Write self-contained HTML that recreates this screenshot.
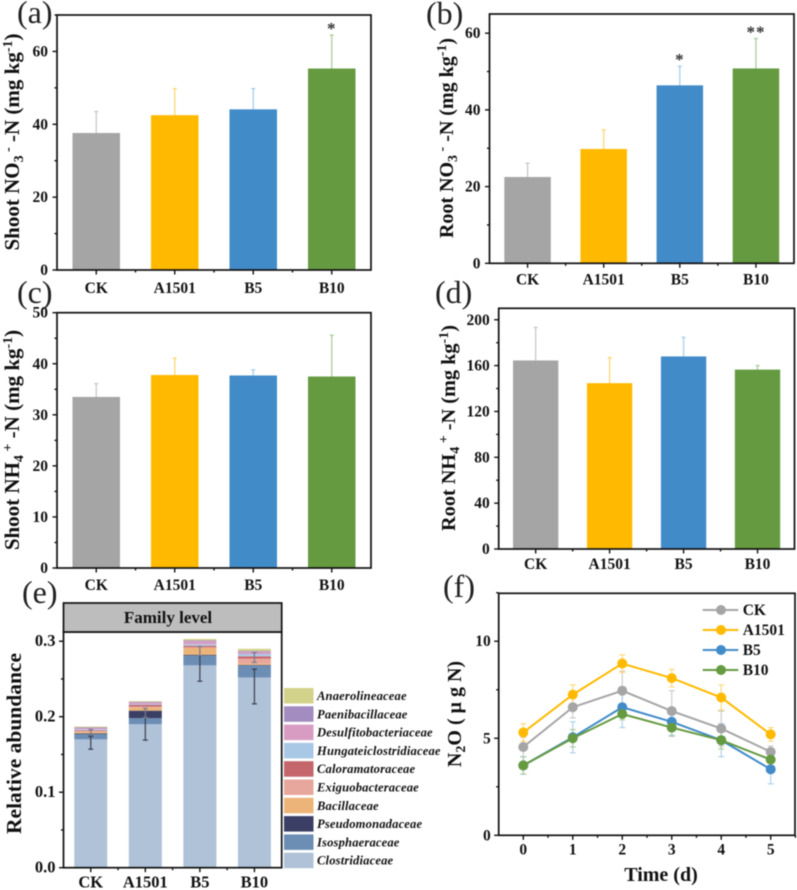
<!DOCTYPE html>
<html lang="en">
<head>
<meta charset="utf-8">
<title>Nitrogen content and N2O figure</title>
<style>
html,body{margin:0;padding:0;background:#fff;}
#figure{display:block;width:797px;height:890px;filter:blur(0.5px);font-family:"Liberation Serif",serif;}
text{font-family:"Liberation Serif",serif;fill:#111;}
.tick{font-weight:bold;font-size:15.5px;}
.ytitle{font-weight:bold;font-size:20px;text-anchor:middle;}
.plabel{font-size:32px;fill:#222;}
</style>
</head>
<body>
<svg id="figure" xmlns="http://www.w3.org/2000/svg" width="797" height="890" viewBox="0 0 797 890">
  <rect x="0" y="0" width="797" height="890" fill="#fff"/>

  <text class="plabel" x="17" y="23">(a)</text>
  <text class="plabel" x="426" y="24">(b)</text>
  <text class="plabel" x="17" y="303">(c)</text>
  <text class="plabel" x="435" y="303">(d)</text>
  <text class="plabel" x="22" y="603">(e)</text>
  <text class="plabel" x="443" y="597">(f)</text>

  <text class="ytitle" style="font-size:21px" transform="translate(19,142) rotate(-90)">Shoot NO<tspan dy="4" font-size="14">3</tspan><tspan dy="-11" font-size="14"> -</tspan><tspan dy="7"> -N (mg kg</tspan><tspan dy="-7" font-size="14">-1</tspan><tspan dy="7">)</tspan></text>
  <text class="ytitle" transform="translate(453,138) rotate(-90)">Root NO<tspan dy="4" font-size="14">3</tspan><tspan dy="-11" font-size="14"> -</tspan><tspan dy="7"> -N (mg kg</tspan><tspan dy="-7" font-size="14">-1</tspan><tspan dy="7">)</tspan></text>
  <text class="ytitle" style="font-size:21px" transform="translate(19,440) rotate(-90)">Shoot NH<tspan dy="4" font-size="14">4</tspan><tspan dy="-11" font-size="14"> +</tspan><tspan dy="7"> -N (mg kg</tspan><tspan dy="-7" font-size="14">-1</tspan><tspan dy="7">)</tspan></text>
  <text class="ytitle" style="font-size:20.3px" transform="translate(455,428) rotate(-90)">Root NH<tspan dy="4" font-size="14">4</tspan><tspan dy="-11" font-size="14"> +</tspan><tspan dy="7"> -N (mg kg</tspan><tspan dy="-7" font-size="14">-1</tspan><tspan dy="7">)</tspan></text>
  <text class="ytitle" style="font-size:21.5px" transform="translate(21,743.5) rotate(-90)">Relative abundance</text>
  <text class="ytitle" transform="translate(461,714) rotate(-90)">N<tspan dy="4" font-size="14">2</tspan><tspan dy="-4">O ( μ g N)</tspan></text>
  <text x="661" y="881" text-anchor="middle" font-weight="bold" font-size="20">Time (d)</text>

  <g id="plots"></g>
</svg>

<script>
// ---------- shared categories ----------
const categories = ['CK', 'A1501', 'B5', 'B10'];

// ---------- panel (a) ----------
const shootNo3Values = [37.6, 42.5, 44.1, 55.3];
const shootNo3Upper = [43.5, 49.8, 49.8, 64.5];
const shootNo3Marks = ['', '', '', '*'];
const shootNo3Ticks = [0, 20, 40, 60];
const shootNo3Minor = [10, 30, 50, 70];

// ---------- panel (b) ----------
const rootNo3Values = [22.5, 29.8, 46.4, 50.8];
const rootNo3Upper = [26.1, 34.8, 51.4, 58.6];
const rootNo3Marks = ['', '', '*', '**'];
const rootNo3Ticks = [0, 20, 40, 60];
const rootNo3Minor = [10, 30, 50];

// ---------- panel (c) ----------
const shootNh4Values = [33.5, 37.8, 37.7, 37.5];
const shootNh4Upper = [36.1, 41.1, 38.8, 45.6];
const shootNh4Marks = ['', '', '', ''];
const shootNh4Ticks = [0, 10, 20, 30, 40, 50];
const shootNh4Minor = [5, 15, 25, 35, 45];

// ---------- panel (d) ----------
const rootNh4Values = [164.5, 144.7, 168, 156.5];
const rootNh4Upper = [193.3, 167, 184.6, 160];
const rootNh4Marks = ['', '', '', ''];
const rootNh4Ticks = [0, 40, 80, 120, 160, 200];
const rootNh4Minor = [20, 60, 100, 140, 180];

// ---------- panel (e) ----------
const families = ['Clostridiaceae', 'Isosphaeraceae', 'Pseudomonadaceae', 'Bacillaceae', 'Exiguobacteraceae', 'Caloramatoraceae', 'Hungateiclostridiaceae', 'Desulfitobacteriaceae', 'Paenibacillaceae', 'Anaerolineaceae'];
const clostridiaceaeValues = [0.170, 0.190, 0.268, 0.252];
const isosphaeraceaeValues = [0.007, 0.008, 0.013, 0.016];
const pseudomonadaceaeValues = [0.001, 0.010, 0.001, 0.0005];
const bacillaceaeValues = [0.002, 0.004, 0.009, 0.0015];
const exiguobacteraceaeValues = [0.001, 0.0015, 0.001, 0.007];
const caloramatoraceaeValues = [0.001, 0.002, 0.002, 0.003];
const hungateiclostridiaceaeValues = [0.0015, 0.001, 0.002, 0.003];
const desulfitobacteriaceaeValues = [0.0015, 0.002, 0.004, 0.003];
const paenibacillaceaeValues = [0.001, 0.001, 0.001, 0.001];
const anaerolineaceaeValues = [0.001, 0.001, 0.002, 0.003];
const clostridiaceaeErrLow = [0.157, 0.169, 0.247, 0.217];
const clostridiaceaeErrHigh = [0.174, 0.200, 0.281, 0.263];
const upperStackErrLow = [0.176, 0.199, 0.281, 0.272];
const upperStackErrHigh = [0.183, 0.211, 0.293, 0.285];
const abundanceTicks = [0, 0.1, 0.2, 0.3];
const abundanceMinor = [0.05, 0.15, 0.25];

// ---------- panel (f) ----------
const days = [0, 1, 2, 3, 4, 5];
const n2oCk = [4.55, 6.6, 7.45, 6.4, 5.5, 4.3];
const n2oA1501 = [5.3, 7.25, 8.85, 8.1, 7.1, 5.2];
const n2oB5 = [3.6, 5.05, 6.6, 5.85, 4.9, 3.4];
const n2oB10 = [3.6, 5.0, 6.25, 5.55, 4.9, 3.9];
const n2oCkErr = [0.5, 0.55, 1.0, 1.05, 0.9, 0.3];
const n2oA1501Err = [0.45, 0.5, 0.45, 0.45, 0.65, 0.35];
const n2oB5Err = [0.45, 0.8, 1.05, 0.7, 0.85, 0.75];
const n2oB10Err = [0.45, 0.45, 0.3, 0.45, 0.45, 0.3];
const n2oTicks = [0, 5, 10];
const n2oMinor = [2.5, 7.5, 12.5];

// ---------- styling ----------
const barColors = ['#a5a5a5', '#ffba00', '#428bc9', '#659a40'];
const errColors = ['#c4c4c4', '#ffd36a', '#a0cbec', '#a6c995'];
const familyColors = ['#b0c2d8', '#6c8eb5', '#3b3f65', '#ecb478', '#e8a79c', '#c4666c', '#a9c8e6', '#d89cc3', '#a38cbf', '#d2d28a'];

const SVG_NS = 'http://www.w3.org/2000/svg';
const root = document.getElementById('plots');

function mk(parent, tag, attrs, text) {
  const node = document.createElementNS(SVG_NS, tag);
  for (const k in attrs) node.setAttribute(k, attrs[k]);
  if (text !== undefined) node.textContent = text;
  parent.appendChild(node);
  return node;
}
function linearScale(d0, d1, r0, r1) {
  return function (v) { return r0 + (v - d0) * (r1 - r0) / (d1 - d0); };
}
function bandScale(count, left, right) {
  const step = (right - left) / count;
  return function (i) { return left + step * (i + 0.5); };
}
function tickLine(parent, x1, y1, x2, y2, name) {
  const t = mk(parent, 'line', { x1: x1, y1: y1, x2: x2, y2: y2, stroke: '#111', 'stroke-width': 1.4 });
  
  
  return t;
}
function drawFrame(parent, b) {
  const f = mk(parent, 'rect', { x: b.left, y: b.top, width: b.right - b.left, height: b.bottom - b.top, fill: 'none', stroke: '#111', 'stroke-width': 1.7 });
  
  
}
function drawYAxis(parent, b, y, majors, minors, labelGap, fmt, fontSize) {
  majors.forEach(function (v) {
    tickLine(parent, b.left - 4.5, y(v), b.left, y(v), 'y-major-tick');
    const l = mk(parent, 'text', { x: b.left - labelGap, y: y(v) + 5, 'text-anchor': 'end', class: 'tick', style: 'font-size:' + fontSize + 'px' }, fmt(v));
    
    
  });
  minors.forEach(function (v) {
    tickLine(parent, b.left - 2.5, y(v), b.left, y(v), 'y-minor-tick');
  });
}
function drawCategoryAxis(parent, b, x, labelOffset, fontSize) {
  categories.forEach(function (c, i) {
    tickLine(parent, x(i), b.bottom, x(i), b.bottom + 4.5, 'x-major-tick');
    const l = mk(parent, 'text', { x: x(i), y: b.bottom + labelOffset, 'text-anchor': 'middle', class: 'tick', style: 'font-size:' + fontSize + 'px' }, c);
    
    
    if (i > 0) {
      const mid = (x(i) + x(i - 1)) / 2;
      tickLine(parent, mid, b.bottom, mid, b.bottom + 2.5, 'x-minor-tick');
    }
  });
}
function drawBarPanel(name, b, yMax, values, upper, marks, ticks, minors, barWidth, labelOffset, labelGap) {
  const g = mk(root, 'g', {});
  
  
  const x = bandScale(categories.length, b.left, b.right);
  const y = linearScale(0, yMax, b.bottom, b.top);
  values.forEach(function (v, i) {
    const eb = mk(g, 'line', { x1: x(i), x2: x(i), y1: y(v), y2: y(upper[i]), stroke: errColors[i], 'stroke-width': 1.2 });
    
    
    const cap = mk(g, 'line', { x1: x(i) - 2, x2: x(i) + 2, y1: y(upper[i]), y2: y(upper[i]), stroke: errColors[i], 'stroke-width': 1.2 });
    
    
    const bar = mk(g, 'rect', { x: x(i) - barWidth / 2, y: y(v), width: barWidth, height: y(0) - y(v), fill: barColors[i] });
    
    
    if (marks[i]) {
      const m = mk(g, 'text', { x: x(i), y: y(upper[i]) - 1, 'text-anchor': 'middle', 'font-size': 17, 'font-weight': 'bold', 'letter-spacing': '1' }, marks[i]);
      
      
      m.style.fill = '#333';
    }
  });
  drawFrame(g, b);
  drawYAxis(g, b, y, ticks, minors, labelGap, String, 15.5);
  drawCategoryAxis(g, b, x, labelOffset, 15.5);
}

drawBarPanel('shoot-no3-panel', { left: 57, right: 371, top: 15, bottom: 270 }, 70, shootNo3Values, shootNo3Upper, shootNo3Marks, shootNo3Ticks, shootNo3Minor, 47.5, 23, 9);
drawBarPanel('root-no3-panel', { left: 489.5, right: 794, top: 14, bottom: 263.3 }, 65, rootNo3Values, rootNo3Upper, rootNo3Marks, rootNo3Ticks, rootNo3Minor, 46.5, 21, 9);
drawBarPanel('shoot-nh4-panel', { left: 57, right: 371, top: 312.7, bottom: 568 }, 50, shootNh4Values, shootNh4Upper, shootNh4Marks, shootNh4Ticks, shootNh4Minor, 47.5, 22, 9);
drawBarPanel('root-nh4-panel', { left: 498.7, right: 794.5, top: 308.3, bottom: 549 }, 210, rootNh4Values, rootNh4Upper, rootNh4Marks, rootNh4Ticks, rootNh4Minor, 45.3, 20, 9);

// ---------- stacked panel (e) ----------
(function drawStacked() {
  const g = mk(root, 'g', {});
  
  
  const b = { left: 63.5, right: 281.7, top: 632, bottom: 867.7 };
  const x = bandScale(categories.length, b.left, b.right);
  const y = linearScale(0, 0.3122, b.bottom, b.top);
  const stackSeries = [clostridiaceaeValues, isosphaeraceaeValues, pseudomonadaceaeValues, bacillaceaeValues, exiguobacteraceaeValues, caloramatoraceaeValues, hungateiclostridiaceaeValues, desulfitobacteriaceaeValues, paenibacillaceaeValues, anaerolineaceaeValues];
  const bw = 33;
  categories.forEach(function (c, i) {
    let base = 0;
    stackSeries.forEach(function (series, s) {
      const seg = mk(g, 'rect', { x: x(i) - bw / 2, y: y(base + series[i]), width: bw, height: y(base) - y(base + series[i]), fill: familyColors[s] });
      
      
      base += series[i];
    });
  });
  function errorBar(lo, hi, i, name, color) {
    const line = mk(g, 'line', { x1: x(i), x2: x(i), y1: y(lo), y2: y(hi), stroke: color, 'stroke-width': 1.2 });
    
    
    [lo, hi].forEach(function (v) {
      const cap = mk(g, 'line', { x1: x(i) - 2.5, x2: x(i) + 2.5, y1: y(v), y2: y(v), stroke: color, 'stroke-width': 1.2 });
      
      
    });
  }
  categories.forEach(function (c, i) {
    errorBar(clostridiaceaeErrLow[i], clostridiaceaeErrHigh[i], i, 'clostridiaceae-error-' + c.toLowerCase(), '#3a3f4d');
    errorBar(upperStackErrLow[i], upperStackErrHigh[i], i, 'upper-stack-error-' + c.toLowerCase(), '#77798a');
  });
  drawFrame(g, b);
  const strip = mk(g, 'rect', { x: b.left, y: 603, width: b.right - b.left, height: 29, fill: '#bdbdbd', stroke: '#111', 'stroke-width': 1.7 });
  
  
  const stripText = mk(g, 'text', { x: 168, y: 623, 'text-anchor': 'middle', 'font-weight': 'bold', 'font-size': 17 }, 'Family level');
  
  
  drawYAxis(g, b, y, abundanceTicks, abundanceMinor, 8, function (v) { return v.toFixed(1); }, 16.5);
  drawCategoryAxis(g, b, x, 20, 16.5);

  // legend (top entry is the last family in the stack)
  const legendX = 284;
  families.slice().reverse().forEach(function (fam, r) {
    const color = familyColors[families.length - 1 - r];
    const sw = mk(g, 'rect', { x: legendX, y: 688 + r * 18.3, width: 29.5, height: 15.5, fill: color });
    
    
    const t = mk(g, 'text', { x: legendX + 33, y: 700 + r * 18.3, 'font-style': 'italic', 'font-weight': 'bold', 'font-size': 12.6, 'letter-spacing': '0.15' }, fam);
    
    
  });
})();

// ---------- line panel (f) ----------
(function drawLines() {
  const g = mk(root, 'g', {});
  
  
  const b = { left: 498.7, right: 795, top: 593.3, bottom: 835.3 };
  const x = linearScale(0, 5, 523.3, 770.7);
  const y = linearScale(0, 12.47, b.bottom, b.top);
  const lineValues = [n2oCk, n2oA1501, n2oB5, n2oB10];
  const lineErrs = [n2oCkErr, n2oA1501Err, n2oB5Err, n2oB10Err];
  lineValues.forEach(function (vals, s) {
    vals.forEach(function (v, i) {
      const lo = v - lineErrs[s][i];
      const hi = v + lineErrs[s][i];
      const e = mk(g, 'line', { x1: x(days[i]), x2: x(days[i]), y1: y(lo), y2: y(hi), stroke: errColors[s], 'stroke-width': 1 });
      
      
      [lo, hi].forEach(function (w) {
        const c = mk(g, 'line', { x1: x(days[i]) - 3, x2: x(days[i]) + 3, y1: y(w), y2: y(w), stroke: errColors[s], 'stroke-width': 1 });
        
        
      });
    });
  });
  lineValues.forEach(function (vals, s) {
    const pts = vals.map(function (v, i) { return x(days[i]) + ',' + y(v); }).join(' ');
    const line = mk(g, 'polyline', { points: pts, fill: 'none', stroke: barColors[s], 'stroke-width': 2 });
    
    
    vals.forEach(function (v, i) {
      const p = mk(g, 'circle', { cx: x(days[i]), cy: y(v), r: 5, fill: barColors[s] });
      
      
    });
  });
  drawFrame(g, b);
  drawYAxis(g, b, y, n2oTicks, n2oMinor, 8, String, 15.5);
  days.forEach(function (d) {
    tickLine(g, x(d), b.bottom, x(d), b.bottom + 4.5, 'x-major-tick');
    const l = mk(g, 'text', { x: x(d), y: b.bottom + 19, 'text-anchor': 'middle', class: 'tick' }, String(d));
    
    
    if (d < 5) {
      const mx = x(d + 0.5);
      tickLine(g, mx, b.bottom, mx, b.bottom + 2.5, 'x-minor-tick');
    }
  });
  tickLine(g, x(5.5), b.bottom, x(5.5), b.bottom + 2.5, 'x-minor-tick');
  categories.forEach(function (c, s) {
    const ly = 610 + s * 20;
    const ll = mk(g, 'line', { x1: 702.7, x2: 738.3, y1: ly, y2: ly, stroke: barColors[s], 'stroke-width': 2 });
    
    
    const lm = mk(g, 'circle', { cx: 721, cy: ly, r: 5, fill: barColors[s] });
    
    
    const lt = mk(g, 'text', { x: 742.7, y: ly + 5, class: 'tick' }, c);
    
    
  });
})();
</script>
</body>
</html>
